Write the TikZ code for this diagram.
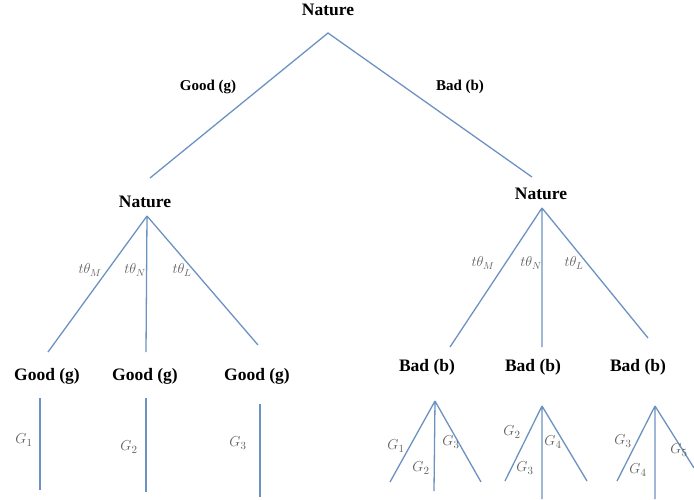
\documentclass[tikz,border=0pt]{standalone}
\usepackage{fontspec}
\setmainfont{Liberation Serif}
\begin{document}
\begin{tikzpicture}[x={(1pt,0)},y={(0,-1pt)},
  br/.style={draw=branchc,line width=1.3pt},
  big/.style={font=\fontsize{17.5}{20}\selectfont\bfseries,inner sep=0pt},
  mid/.style={font=\fontsize{15}{18}\selectfont\bfseries,inner sep=0pt},
  lab/.style={text=labc,font=\fontsize{14}{16}\selectfont,inner sep=0pt},
  glab/.style={text=labc,font=\fontsize{15}{17}\selectfont,inner sep=0pt}]
\definecolor{branchc}{RGB}{108,146,194}
\definecolor{labc}{RGB}{95,95,95}
\useasboundingbox (0,0) rectangle (694,499);
% top
\node[big] (n0) at (328,10) {Nature};
\coordinate (a0) at (328,33);
\coordinate (e1) at (150,178);
\coordinate (e2) at (532,177);
\draw[br] (e1) -- (a0) -- (e2);
\node[mid] (lg) at (208,87) {Good (g)};
\node[mid] (lb) at (460,87) {Bad (b)};
% left nature
\node[big] (n1) at (145,202) {Nature};
\coordinate (a1) at (147,216);
\coordinate (l1) at (48,352);
\coordinate (l2) at (146,352);
\coordinate (l3) at (258,345);
\draw[br] (a1) -- (l1) (a1) -- (l2) (a1) -- (l3);
\node[lab] (t1) at (90,270) {$t\theta_M$};
\node[lab] (t2) at (135,270) {$t\theta_N$};
\node[lab] (t3) at (182,270) {$t\theta_L$};
% right nature
\node[big] (n2) at (541,194) {Nature};
\coordinate (a2) at (542,208);
\coordinate (r1) at (450,347);
\coordinate (r2) at (542,347);
\coordinate (r3) at (648,338);
\draw[br] (a2) -- (r1) (a2) -- (r2) (a2) -- (r3);
\node[lab] (t4) at (483,263) {$t\theta_M$};
\node[lab] (t5) at (531,263) {$t\theta_N$};
\node[lab] (t6) at (574,263) {$t\theta_L$};
% bottom labels
\node[big] (g1) at (47,376) {Good (g)};
\node[big] (g2) at (145,376) {Good (g)};
\node[big] (g3) at (257,376) {Good (g)};
\node[big] (b1) at (427,367) {Bad (b)};
\node[big] (b2) at (533,367) {Bad (b)};
\node[big] (b3) at (638,367) {Bad (b)};
% left verticals
\coordinate (v1a) at (40,398); \coordinate (v1b) at (40,490);
\coordinate (v2a) at (146,398); \coordinate (v2b) at (146,492);
\coordinate (v3a) at (260,404); \coordinate (v3b) at (260,497);
\draw[br] (v1a) -- (v1b) (v2a) -- (v2b) (v3a) -- (v3b);
\node[glab] (G1) at (24,440) {$G_1$};
\node[glab] (G2) at (129,447) {$G_2$};
\node[glab] (G3) at (238,443) {$G_3$};
% right small trees
\coordinate (p1) at (435,401);
\coordinate (p1a) at (390,482); \coordinate (p1b) at (434,491); \coordinate (p1c) at (481,482);
\draw[br] (p1) -- (p1a) (p1) -- (p1b) (p1) -- (p1c);
\node[glab] (H1) at (396,446) {$G_1$};
\node[glab] (H2) at (421,468) {$G_2$};
\node[glab] (H3) at (451,442) {$G_3$};
\coordinate (p2) at (542,406);
\coordinate (p2a) at (505,481); \coordinate (p2b) at (542,499); \coordinate (p2c) at (587,481);
\draw[br] (p2) -- (p2a) (p2) -- (p2b) (p2) -- (p2c);
\node[glab] (K1) at (512,432) {$G_2$};
\node[glab] (K2) at (525,468) {$G_3$};
\node[glab] (K3) at (553,442) {$G_4$};
\coordinate (p3) at (655,406);
\coordinate (p3a) at (617,481); \coordinate (p3b) at (655,499); \coordinate (p3c) at (694,468);
\draw[br] (p3) -- (p3a) (p3) -- (p3b) (p3) -- (p3c);
\node[glab] (M1) at (623,441) {$G_3$};
\node[glab] (M2) at (638,470) {$G_4$};
\node[glab] (M3) at (679,450) {$G_5$};
\end{tikzpicture}
\end{document}
